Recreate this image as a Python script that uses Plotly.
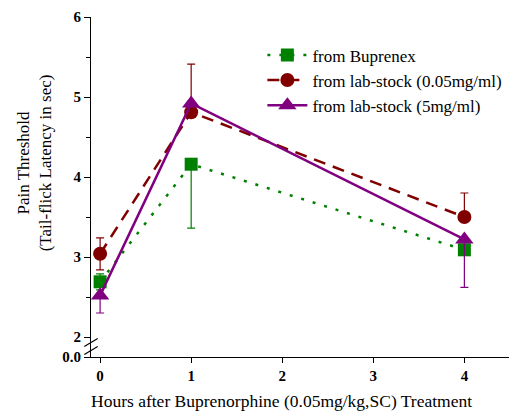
import plotly.graph_objects as go

hours = [0, 1, 4]

buprenex = [2.69, 4.16, 3.09]
buprenex_up = [0.10, 0.0, 0.0]
buprenex_down = [0.10, 0.80, 0.0]

lab005 = [3.04, 4.81, 3.50]
lab005_up = [0.20, 0.60, 0.30]
lab005_down = [0.20, 0.0, 0.0]

lab5 = [2.52, 4.92, 3.22]
lab5_up = [0.0, 0.0, 0.0]
lab5_down = [0.22, 0.0, 0.60]

y_tickvals = [1.75, 2, 3, 4, 5, 6]
y_ticktext = ["0.0", "2", "3", "4", "5", "6"]
x_tickvals = [0, 1, 2, 3, 4]

FONT = "Liberation Serif, Times New Roman, serif"

fig = go.Figure()

def add(name, y, up, down, color, dash, symbol, size):
    fig.add_trace(go.Scatter(
        x=hours, y=y, name=name, mode="lines+markers",
        line=dict(color=color, width=2.5, dash=dash),
        marker=dict(color=color, symbol=symbol, size=size),
        error_y=dict(type="data", symmetric=False, array=up, arrayminus=down,
                     color=color, thickness=1.2, width=4),
    ))

add("from Buprenex", buprenex, buprenex_up, buprenex_down, "#008000", "3px,9px", "square", 13)
add("from lab-stock (0.05mg/ml)", lab005, lab005_up, lab005_down, "#800000", "12px,8px", "circle", 14)
add("from lab-stock (5mg/ml)", lab5, lab5_up, lab5_down, "#800080", "solid", "triangle-up", 16)

# axis break marks
for yy in [1.93, 1.83]:
    fig.add_shape(type="line", xref="paper", yref="y",
                  x0=-0.016, x1=0.016, y0=yy - 0.05, y1=yy + 0.05,
                  line=dict(color="black", width=1.2))

fig.add_annotation(text="Hours after Buprenorphine (0.05mg/kg,SC) Treatment",
                   xref="paper", yref="paper", x=0.455, y=-0.13,
                   xanchor="center", yanchor="middle", showarrow=False,
                   font=dict(family=FONT, size=17.5))
fig.add_annotation(text="Pain Threshold<br>(Tail-flick Latency in sec)",
                   xref="paper", yref="paper", x=-0.136, y=0.57,
                   xanchor="center", yanchor="middle", showarrow=False, textangle=-90,
                   font=dict(family=FONT, size=17))

fig.update_layout(
    width=509, height=414,
    margin=dict(l=91, r=0, t=17, b=57, autoexpand=False),
    plot_bgcolor="white", paper_bgcolor="white",
    font=dict(family=FONT, color="black", size=14),
    showlegend=True,
    legend=dict(x=0.41, y=0.94, xanchor="left", yanchor="top",
                bgcolor="rgba(0,0,0,0)", font=dict(family=FONT, size=17),
                tracegroupgap=0, itemwidth=40),
    xaxis=dict(range=[-0.1, 4.49], tickvals=x_tickvals, showgrid=False, zeroline=False,
               automargin=False,
               showline=True, linecolor="black", linewidth=1.2,
               ticks="outside", ticklen=5, tickcolor="black",
               tickfont=dict(family=FONT, size=15, weight="bold")),
    yaxis=dict(range=[1.75, 6], tickvals=y_tickvals, ticktext=y_ticktext,
               showgrid=False, zeroline=False, automargin=False,
               showline=True, linecolor="black", linewidth=1.2,
               ticks="outside", ticklen=6, tickcolor="black",
               minor=dict(tickvals=[2.5, 3.5, 4.5, 5.5], ticks="outside", ticklen=4,
                          tickcolor="black", showgrid=False),
               tickfont=dict(family=FONT, size=15, weight="bold")),
)

fig.write_html("out.html", config={"displayModeBar": False},
               post_script="document.body.style.margin='0';document.body.style.overflow='hidden';")
